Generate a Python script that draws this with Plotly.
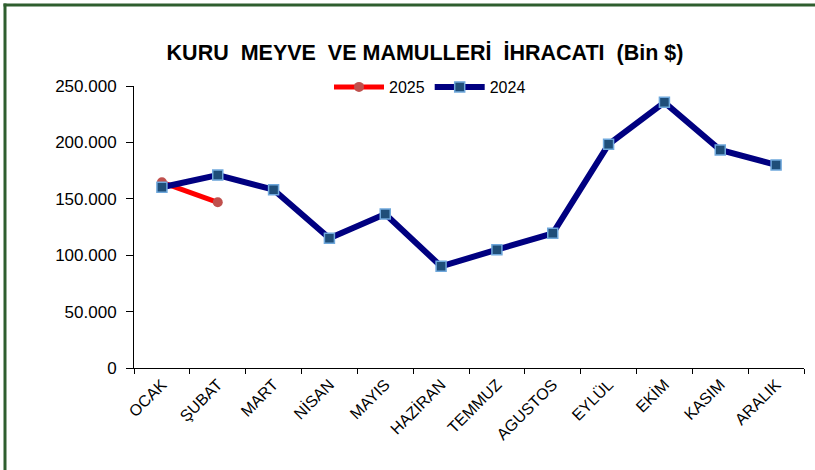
import plotly.graph_objects as go

months = ["OCAK", "ŞUBAT", "MART", "NİSAN", "MAYIS", "HAZİRAN", "TEMMUZ",
          "AGUSTOS", "EYLÜL", "EKİM", "KASIM", "ARALIK"]
values_2024 = [160200, 171000, 158100, 115000, 136500, 90100, 104900,
               119400, 198300, 235500, 193300, 180000]
months_2025 = ["OCAK", "ŞUBAT"]
values_2025 = [164600, 146900]
y_ticks = [0, 50000, 100000, 150000, 200000, 250000]

title_text = "KURU\u00a0 MEYVE\u00a0 VE MAMULLERİ\u00a0 İHRACATI\u00a0 (Bin $)"
FONT = "Liberation Sans, Arial, sans-serif"

fig = go.Figure()
fig.add_trace(go.Scatter(
    x=months_2025, y=values_2025, name="2025", mode="lines+markers",
    line=dict(color="#FF0000", width=5),
    marker=dict(symbol="circle", size=10, color="#C0504D"),
))
fig.add_trace(go.Scatter(
    x=months, y=values_2024, name="2024", mode="lines+markers",
    line=dict(color="#000080", width=6),
    marker=dict(symbol="square", size=10, color="#1F4E79",
                line=dict(color="#6FA8DC", width=1.5)),
))

L, R, T, B = 134, 11, 86, 102
W, H = 815, 470
pw, ph = W - L - R, H - T - B

def px_x(p):
    return (p - L) / pw

def px_y(p):
    return (H - B - p) / ph

shapes = [
    dict(type="line", xref="paper", yref="paper",
         x0=px_x(5), x1=px_x(5), y0=px_y(470), y1=px_y(3.5),
         line=dict(color="#2E5E2E", width=3)),
    dict(type="line", xref="paper", yref="paper",
         x0=px_x(3.5), x1=px_x(815), y0=px_y(5), y1=px_y(5),
         line=dict(color="#2E5E2E", width=3)),
]

fig.update_layout(
    width=W, height=H, autosize=False,
    margin=dict(l=L, r=R, t=T, b=B, pad=0),
    paper_bgcolor="white", plot_bgcolor="white",
    separators=",.",
    font=dict(family=FONT, color="black", size=15),
    title=dict(text=f"<b>{title_text}</b>", x=425 / W, xanchor="center",
               y=1 - 52 / H, yanchor="middle",
               font=dict(family=FONT, size=21.5, color="black")),
    legend=dict(orientation="h", x=px_x(430), xanchor="center",
                y=px_y(87), yanchor="middle", font=dict(size=16),
                bgcolor="rgba(0,0,0,0)", itemwidth=50),
    showlegend=True,
    shapes=shapes,
    xaxis=dict(
        type="category", categoryorder="array", categoryarray=months,
        range=[-0.5, 11.5], tickson="boundaries", ticks="outside",
        ticklen=5, tickcolor="black", showline=True, linecolor="black",
        linewidth=1, showgrid=False, zeroline=False, tickangle=-45,
        tickfont=dict(size=16), automargin=False,
    ),
    yaxis=dict(
        range=[0, 250000], tickvals=y_ticks, tickformat=",d",
        ticks="outside", ticklen=7, tickcolor="black", showline=True,
        linecolor="black", linewidth=1, showgrid=False, zeroline=False,
        tickfont=dict(size=17), automargin=False, ticklabelstandoff=6,
    ),
)

post = ("document.body.style.margin='0';"
        "document.body.style.overflow='hidden';"
        "document.documentElement.style.overflow='hidden';")

fig.write_html("out.html",
               config={"responsive": False, "displayModeBar": False},
               post_script=post)
